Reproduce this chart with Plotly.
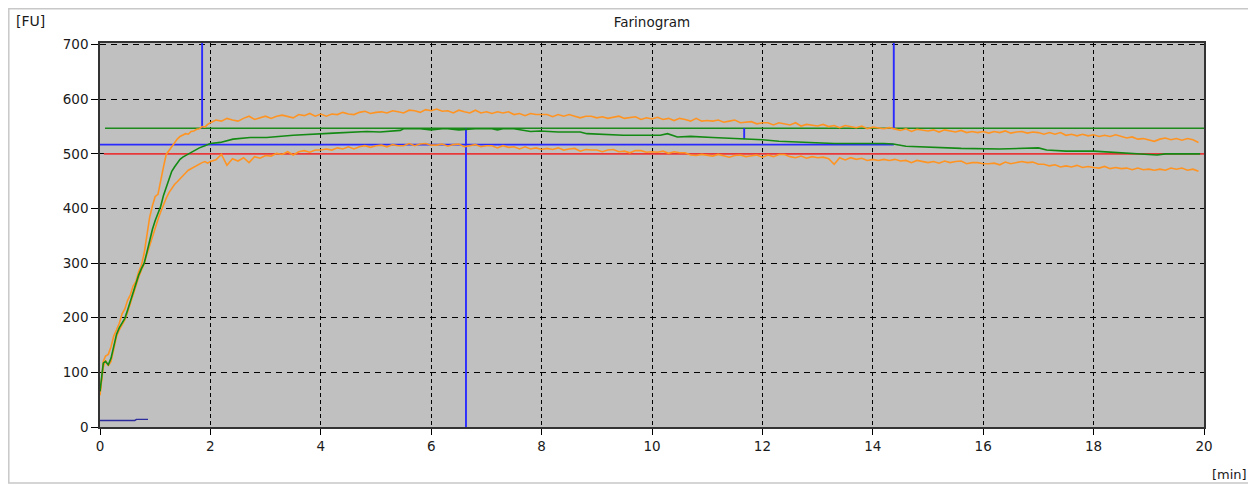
import plotly.graph_objects as go

# ---------------- data ----------------
X_TICKS = [0, 2, 4, 6, 8, 10, 12, 14, 16, 18, 20]
Y_TICKS = [0, 100, 200, 300, 400, 500, 600, 700]
X_MAX = 20
Y_MAX = 703

# sampling clock of the plateau part of the curves (min)
PLATEAU_START = 2.1
PLATEAU_STEP = 0.1

# rise part (0 - 2 min)
RISE_T = [0.00, 0.03, 0.06, 0.10, 0.15, 0.20, 0.25, 0.30, 0.35, 0.40, 0.45, 0.50, 0.55, 0.60,
          0.65, 0.70, 0.75, 0.80, 0.85, 0.90, 0.95, 1.00, 1.05, 1.10, 1.15, 1.20, 1.25, 1.30,
          1.35, 1.40, 1.45, 1.50, 1.55, 1.60, 1.65, 1.70, 1.75, 1.80, 1.85, 1.90, 1.95, 2.00]
UPPER_RISE = [58, 92, 120, 130, 133, 147, 167, 178, 190, 207, 216, 232, 242, 258,
              266, 284, 296, 318, 350, 384, 405, 422, 426, 455, 476, 499, 506, 514,
              520, 527, 532, 534, 537, 536, 541, 542, 545, 546, 550, 549, 554, 557]
LOWER_RISE = [62, 85, 110, 122, 112, 120, 145, 166, 178, 187, 196, 210, 226, 244,
              257, 274, 287, 299, 316, 333, 350, 366, 380, 394, 408, 419, 429, 437,
              444, 449, 455, 460, 465, 470, 473, 476, 479, 482, 484, 486, 483, 486]

UPPER_PLATEAU = [
    562, 560, 565, 562, 560, 565, 569, 563, 566, 569,
    565, 569, 571, 568, 566, 572, 570, 574, 569, 573,
    569, 573, 572, 576, 573, 572, 576, 578, 574, 576,
    577, 575, 579, 577, 575, 580, 579, 576, 581, 579,
    582, 578, 579, 575, 580, 577, 575, 580, 575, 577,
    574, 577, 575, 577, 572, 574, 570, 574, 572, 572,
    572, 568, 572, 569, 572, 569, 566, 569, 569, 566,
    568, 565, 567, 569, 565, 566, 568, 563, 566, 564,
    567, 563, 565, 561, 565, 563, 560, 565, 560, 561,
    560, 562, 558, 560, 562, 557, 558, 559, 555, 557,
    557, 553, 557, 555, 553, 557, 551, 554, 552, 551,
    554, 550, 552, 548, 552, 550, 548, 551, 546, 549,
    548, 546, 548, 546, 543, 546, 541, 545, 543, 542,
    544, 540, 544, 542, 540, 543, 539, 541, 539, 541,
    538, 541, 539, 542, 538, 540, 541, 538, 540, 539,
    536, 539, 536, 539, 534, 536, 533, 536, 533, 535,
    532, 534, 532, 535, 532, 529, 531, 527, 528, 525,
    523, 527, 529, 526, 528, 525, 528, 526, 521]

LOWER_PLATEAU = [
    489, 499, 479, 491, 487, 493, 484, 495, 492, 497,
    496, 501, 499, 504, 498, 504, 506, 503, 507, 507,
    509, 507, 511, 509, 513, 509, 513, 515, 512, 515,
    516, 513, 517, 515, 515, 519, 515, 518, 519, 516,
    516, 518, 514, 517, 518, 513, 515, 517, 513, 515,
    515, 511, 515, 512, 513, 509, 513, 509, 511, 508,
    510, 508, 511, 507, 509, 510, 505, 508, 507, 507,
    504, 507, 508, 504, 505, 502, 506, 506, 503, 504,
    503, 505, 501, 504, 502, 502, 498, 497, 499, 498,
    496, 499, 497, 494, 497, 498, 495, 496, 498, 494,
    498, 495, 499, 499, 495, 493, 496, 492, 495, 493,
    494, 491, 481, 493, 489, 493, 490, 492, 488, 490,
    488, 490, 488, 490, 487, 488, 484, 488, 486, 484,
    486, 483, 487, 484, 486, 487, 482, 484, 484, 482,
    482, 483, 480, 485, 482, 484, 486, 484, 485, 481,
    481, 478, 480, 476, 478, 476, 479, 475, 477, 475,
    474, 477, 473, 475, 473, 474, 471, 474, 471, 472,
    470, 472, 470, 474, 472, 474, 470, 472, 468]

# median (green) curve
MEDIAN_RISE_T = [0.00, 0.03, 0.06, 0.10, 0.15, 0.20, 0.25, 0.30, 0.35, 0.40, 0.45, 0.50, 0.55,
                 0.60, 0.65, 0.70, 0.75, 0.80, 0.85, 0.90, 0.95, 1.00, 1.05, 1.10, 1.15, 1.20,
                 1.25, 1.30, 1.35, 1.40, 1.45, 1.50, 1.55, 1.60, 1.65, 1.70, 1.75, 1.80, 1.90, 2.00]
MEDIAN_RISE = [65, 98, 117, 120, 114, 126, 150, 170, 182, 190, 199, 214, 230,
               248, 262, 278, 290, 300, 320, 342, 362, 378, 392, 404, 424, 440,
               456, 468, 476, 484, 490, 494, 497, 499, 502, 505, 508, 511, 515, 519]
MEDIAN_T = [2.18, 2.41, 2.72, 3.02, 3.5, 4.0, 4.23, 4.83, 5.07, 5.44, 5.5, 5.8, 6.0, 6.2, 6.3,
            6.5, 6.8, 7.1, 7.2, 7.3, 7.5, 7.8, 7.97, 8.3, 8.7, 8.82, 9.48, 10.15, 10.28, 10.46,
            10.7, 11.1, 11.65, 12.0, 12.3, 13.0, 13.3, 14.2, 14.37, 14.6, 15.1, 15.6, 16.3,
            16.8, 17.0, 17.15, 17.5, 18.0, 18.3, 18.7, 19.15, 19.3, 19.93]
MEDIAN_V = [521, 527, 530, 530, 534, 536, 538, 541, 540, 543, 546, 546, 544, 546, 546,
            544, 546, 546, 544, 546, 546, 541, 542, 540, 540, 537, 534, 534, 537, 531,
            532, 530, 528, 526, 523, 521, 519, 519, 518, 514, 512, 510, 509,
            511, 511, 507, 505, 505, 503, 501, 498, 500, 500]

# reference lines
LINE_500 = 500          # red
LINE_BAND_TOP = 547     # green horizontal
LINE_CONSIST = 517      # blue horizontal
LINE_500_START = 0.07
LINE_BAND_START = 0.09
T_ARRIVAL = 1.85        # blue vertical (top)
T_PEAK = 6.63           # blue vertical (down to 0)
T_STAB_MARK = 11.67     # short blue tick
T_STAB_MARK_LOW = 527
T_DEPART = 14.38        # blue vertical (top) and end of horizontal blue

# dark-blue trace near the bottom
LOW_T = [0.0, 0.63, 0.66, 0.87]
LOW_V = [12, 12, 14, 14]

# ---------------- build ----------------
plateau_t = [round(PLATEAU_START + PLATEAU_STEP * i, 2) for i in range(len(UPPER_PLATEAU))]
upper_t = RISE_T + plateau_t
upper_v = UPPER_RISE + UPPER_PLATEAU
lower_t = RISE_T + plateau_t
lower_v = LOWER_RISE + LOWER_PLATEAU
med_t = MEDIAN_RISE_T + MEDIAN_T
med_v = MEDIAN_RISE + MEDIAN_V

ORANGE = "#ff9422"
GREEN = "#138a13"
GREEN_H = "#1d8a1d"
RED = "#e8383a"
BLUE = "#2a2aff"
NAVY = "#2c2c9c"
FONT = "DejaVu Sans"
TXT = "#1a1a1a"

fig = go.Figure()

def line(x, y, color, width=1.7):
    fig.add_trace(go.Scatter(x=x, y=y, mode="lines", line=dict(color=color, width=width),
                             hoverinfo="skip", showlegend=False))

line([LINE_500_START, X_MAX], [LINE_500, LINE_500], RED, 1.7)
line([0, T_DEPART], [LINE_CONSIST, LINE_CONSIST], BLUE, 1.7)
line([LINE_BAND_START, X_MAX], [LINE_BAND_TOP, LINE_BAND_TOP], GREEN_H, 1.5)
line([T_ARRIVAL, T_ARRIVAL], [LINE_BAND_TOP, Y_MAX], BLUE, 1.9)
line([T_PEAK, T_PEAK], [LINE_BAND_TOP, 0], BLUE, 1.9)
line([T_STAB_MARK, T_STAB_MARK], [LINE_BAND_TOP, T_STAB_MARK_LOW], BLUE, 1.9)
line([T_DEPART, T_DEPART], [LINE_BAND_TOP, Y_MAX], BLUE, 1.9)
line(LOW_T, LOW_V, NAVY, 1.4)
line(lower_t, lower_v, ORANGE, 1.6)
line(upper_t, upper_v, ORANGE, 1.6)
line(med_t, med_v, GREEN, 1.6)

# the page body has an 8px margin, so the figure starts at (8, 8) on screen
W, H = 1248, 477
L, R, T, B = 92, 52, 35, 58
pw, ph = W - L - R, H - T - B

# outer light frame (layout decoration, at the figure edge)
fig.add_shape(type="rect", xref="paper", yref="paper",
              x0=(0.8 - L) / pw, x1=(1243 - L) / pw,
              y0=-(475 - T - ph) / ph, y1=1 + (T - 0.8) / ph,
              line=dict(color="#c8c8c8", width=1.5), fillcolor="rgba(0,0,0,0)", layer="below")

fig.update_layout(
    width=W, height=H,
    margin=dict(l=L, r=R, t=T, b=B),
    paper_bgcolor="white",
    plot_bgcolor="#c0c0c0",
    font=dict(family=FONT, size=13, color=TXT),
    title=dict(text="Farinogram", x=0.5, xref="paper", xanchor="center",
               y=1 - 14 / H, yanchor="middle",
               font=dict(family=FONT, size=13.5, color=TXT)),
    showlegend=False,
)
fig.update_xaxes(range=[0, X_MAX], tickvals=X_TICKS, ticktext=[str(v) for v in X_TICKS],
                 showgrid=True, gridcolor="#000000", gridwidth=1.3, griddash="4px,3px",
                 zeroline=False, showline=True, linecolor="#333333", linewidth=1.6, mirror=True,
                 ticks="outside", ticklen=6, tickcolor="#000000", tickwidth=1.3,
                 tickfont=dict(family=FONT, size=13.5, color=TXT))
fig.update_yaxes(range=[0, Y_MAX], tickvals=Y_TICKS, ticktext=[str(v) for v in Y_TICKS],
                 showgrid=True, gridcolor="#000000", gridwidth=1.3, griddash="6px,5px",
                 zeroline=False, showline=True, linecolor="#333333", linewidth=1.6, mirror=True,
                 ticks="outside", ticklen=7, tickcolor="#000000", tickwidth=1.3,
                 tickfont=dict(family=FONT, size=13.5, color=TXT))

fig.add_annotation(text="[FU]", xref="paper", yref="paper",
                   x=(6 - L) / pw, y=1 + (T - 12.5) / ph, xanchor="left", yanchor="middle",
                   showarrow=False, font=dict(family=FONT, size=14, color=TXT))
fig.add_annotation(text="[min]", xref="paper", yref="paper",
                   x=(1241 - L) / pw, y=-(466 - T - ph) / ph, xanchor="right", yanchor="middle",
                   showarrow=False, font=dict(family=FONT, size=13, color=TXT))

fig.write_html("out.html")
